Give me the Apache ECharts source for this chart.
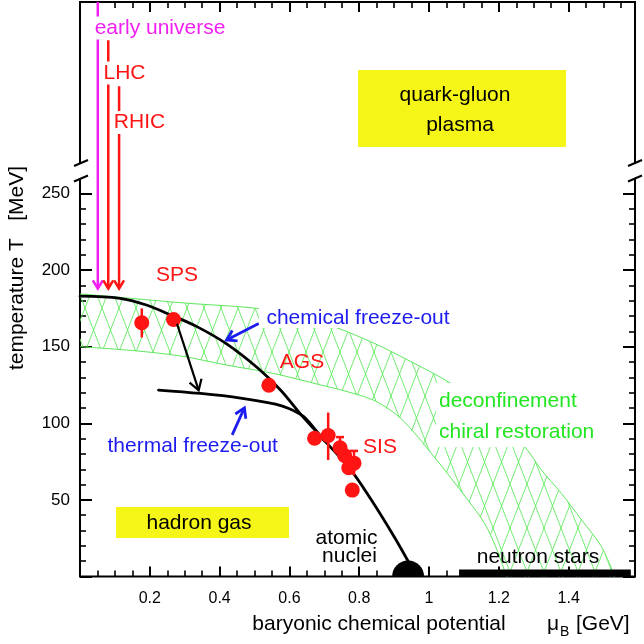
<!DOCTYPE html>
<html><head><meta charset="utf-8">
<script src="https://cdn.jsdelivr.net/npm/echarts@6/dist/echarts.min.js"></script>
<style>html,body{margin:0;padding:0;background:#fff}#c{width:644px;height:644px}</style>
</head><body><div id="c"></div>
<script>
// ---------- data ----------
const xTickLabels = ['0.2','0.4','0.6','0.8','1','1.2','1.4'];
const yTickLabels = ['50','100','150','200','250'];

const chemMu = [0, 0.115, 0.19, 0.26, 0.335, 0.42, 0.51, 0.575, 0.63, 0.69, 0.776, 0.833, 0.90, 0.945];
const chemT  = [183, 181.6, 177.2, 170.7, 163.1, 151.8, 135.9, 121.6, 106.5, 91.3, 69.5, 50.6, 26, 8];

const thermMu = [0.225, 0.345, 0.46, 0.56, 0.60, 0.64, 0.67, 0.70];
const thermT  = [121.7, 119.5, 116.5, 112.5, 109.5, 104.5, 97, 88.5];

const bandUpperMu = [0, 0.15, 0.3, 0.508, 0.62, 0.728, 0.843, 0.939, 1.063, 1.17, 1.274, 1.322, 1.379, 1.437, 1.494, 1.532];
const bandUpperT  = [184.5, 181.5, 178.5, 175, 170, 163, 152.2, 141.3, 126, 108, 84.7, 69.5, 54.3, 36.9, 19.5, 0];
const bandLowerMu = [0, 0.15, 0.287, 0.42, 0.555, 0.69, 0.747, 0.842, 0.92, 1.015, 1.111, 1.159, 1.19, 1.216, 1.222];
const bandLowerT  = [150, 147.5, 144, 138, 132.5, 125, 121.8, 115, 103, 78, 50, 34.7, 20, 4, 0];

const pointMu = [0.177, 0.268, 0.541, 0.672, 0.711, 0.745, 0.758, 0.77, 0.785, 0.78];
const pointT  = [165.6, 167.8, 124.8, 90.2, 92, 84, 79, 71, 74, 56.4];

const errMu   = [0.177, 0.711, 0.745, 0.785];
const errLow  = [156, 76, 76, 66];
const errHigh = [175, 107, 91, 82];
const errCap  = [0, 0, 1, 1];

const vArrowMu  = [0.051, 0.081, 0.112];   // early universe, LHC, RHIC
const vArrowTop = [375, 350, 320];
const vArrowTip = 188;

const chemArrow  = [0.512, 165.2, 0.42, 154.4];
const thermArrow = [0.436, 92.4, 0.471, 110.1];
const spsArrow   = [0.278, 165, 0.34, 121.5];

const nucleus = [0.94, 0];
const neutronStars = [1.086, 1.578, 4.5];

// ---------- helpers ----------
const FONT = '"Liberation Sans", Arial, Helvetica, sans-serif';
const RED = '#ff1414', BLUE = '#1c1cf0', GREEN = '#22e622', MAG = '#f21ff2', YEL = '#f5f518';

function makeHatch(){
  const w = 17, h = 44, c = document.createElement('canvas');
  c.width = w; c.height = h;
  const g = c.getContext('2d');
  g.strokeStyle = '#62ea62'; g.lineWidth = 0.9;
  g.beginPath();
  for (const dx of [-w, 0, w]) {
    g.moveTo(dx, 0); g.lineTo(dx + w, h);
    g.moveTo(dx + w, 0); g.lineTo(dx, h);
  }
  g.stroke();
  return c;
}
const hatch = makeHatch();

function arrowSeries(data, color, width, head){
  return {
    type: 'custom', coordinateSystem: 'cartesian2d', xAxisIndex: 0, yAxisIndex: 0,
    silent: true, z: 6, data: data,
    renderItem(params, api){
      const p1 = api.coord([api.value(0), api.value(1)]);
      const p2 = api.coord([api.value(2), api.value(3)]);
      const ang = Math.atan2(p2[1]-p1[1], p2[0]-p1[0]);
      const a1 = ang + Math.PI - 0.55, a2 = ang + Math.PI + 0.55;
      const h1 = [p2[0] + head*Math.cos(a1), p2[1] + head*Math.sin(a1)];
      const h2 = [p2[0] + head*Math.cos(a2), p2[1] + head*Math.sin(a2)];
      return {type:'group', children:[
        {type:'line', shape:{x1:p1[0], y1:p1[1], x2:p2[0], y2:p2[1]}, style:{stroke:color, lineWidth:width}},
        {type:'polyline', shape:{points:[h1, p2, h2]}, style:{stroke:color, lineWidth:width, fill:'none'}}
      ]};
    }
  };
}

// smooth curve drawn through the library's own coordinate conversion
function curveSeries(mu, T, color, width, z){
  return {
    type:'custom', coordinateSystem:'cartesian2d', xAxisIndex:0, yAxisIndex:0, silent:true, z:z,
    data:[[mu[0], T[0]]],
    renderItem(params, api){
      const pts = mu.map((m,i)=>api.coord([m, T[i]]));
      return {type:'polyline', shape:{points:pts, smooth:0.35}, style:{stroke:color, lineWidth:width, fill:'none', lineJoin:'round', lineCap:'round'}};
    }
  };
}

function txt(text, x, y, color, extra){
  return {type:'text', z:50, style: Object.assign({
    text, x, y, fill: color, font: '21px ' + FONT, align:'center', verticalAlign:'middle'
  }, extra || {})};
}

// ---------- chart ----------
const chart = echarts.init(document.getElementById('c'), null, {renderer:'canvas'});

const xCommon = {min:0, max:1.59, interval:0.2};
const fmtX = v => { const s = String(+(+v).toFixed(2)); return xTickLabels.includes(s) ? s : ''; };
const fmtY = v => { const s = String(+v); return yTickLabels.includes(s) ? s : ''; };

const option = {
  animation: false,
  backgroundColor: '#fff',
  grid: [
    {left:80, right:9, top:2, bottom:67.5, show:true, borderColor:'#000', borderWidth:2, backgroundColor:'transparent'},
    {left:80, right:9, top:193.5, bottom:67.5, show:false}
  ],
  xAxis: [
    Object.assign({type:'value', gridIndex:0, position:'bottom',
      axisLine:{show:false},
      axisTick:{show:true, inside:true, length:10, lineStyle:{color:'#000', width:2}},
      minorTick:{show:true, splitNumber:4, length:6, lineStyle:{color:'#000', width:1.6}},
      splitLine:{show:false},
      axisLabel:{formatter:fmtX, fontSize:16, color:'#000', margin:14, fontFamily:FONT}
    }, xCommon),
    Object.assign({type:'value', gridIndex:0, position:'top',
      axisLine:{show:false},
      axisTick:{show:true, inside:true, length:10, lineStyle:{color:'#000', width:2}},
      minorTick:{show:true, splitNumber:4, length:6, lineStyle:{color:'#000', width:1.6}},
      splitLine:{show:false}, axisLabel:{show:false}
    }, xCommon),
    Object.assign({type:'value', gridIndex:1, show:false}, xCommon)
  ],
  yAxis: [
    {type:'value', gridIndex:0, min:0, max:375, show:false},
    {type:'value', gridIndex:1, min:0, max:250, interval:50, position:'left',
      axisLine:{show:false},
      axisTick:{show:true, inside:true, length:12, lineStyle:{color:'#000', width:2}},
      minorTick:{show:true, splitNumber:5, length:6, lineStyle:{color:'#000', width:1.6}},
      splitLine:{show:false},
      axisLabel:{formatter:fmtY, fontSize:17, color:'#000', margin:10, fontFamily:FONT}},
    {type:'value', gridIndex:1, min:0, max:250, interval:50, position:'right',
      axisLine:{show:false},
      axisTick:{show:true, inside:true, length:12, lineStyle:{color:'#000', width:2}},
      minorTick:{show:true, splitNumber:5, length:6, lineStyle:{color:'#000', width:1.6}},
      splitLine:{show:false}, axisLabel:{show:false}}
  ],
  series: [
    // hatched crossover band
    {type:'custom', coordinateSystem:'cartesian2d', xAxisIndex:0, yAxisIndex:0, silent:true, z:1,
      data:[[0,0]],
      renderItem(params, api){
        const up = bandUpperMu.map((m,i)=>api.coord([m, bandUpperT[i]]));
        const lo = bandLowerMu.map((m,i)=>api.coord([m, bandLowerT[i]]));
        const poly = up.concat(lo.slice().reverse());
        return {type:'group', children:[
          {type:'polygon', shape:{points:poly}, style:{fill:{image:hatch, repeat:'repeat'}, stroke:'none'}},
          {type:'polyline', shape:{points:up, smooth:0.3}, style:{stroke:'#5ee85e', lineWidth:1, fill:'none'}},
          {type:'polyline', shape:{points:lo, smooth:0.3}, style:{stroke:'#5ee85e', lineWidth:1, fill:'none'}}
        ]};
      }},
    curveSeries(chemMu, chemT, '#000', 2.8, 3),
    curveSeries(thermMu, thermT, '#000', 2.8, 3),
    // error bars
    {type:'custom', coordinateSystem:'cartesian2d', xAxisIndex:0, yAxisIndex:0, silent:true, z:4,
      data: errMu.map((m,i)=>[m, errLow[i], errHigh[i], errCap[i]]),
      renderItem(params, api){
        const a = api.coord([api.value(0), api.value(1)]);
        const b = api.coord([api.value(0), api.value(2)]);
        const ch = [{type:'line', shape:{x1:a[0], y1:a[1], x2:b[0], y2:b[1]}, style:{stroke:RED, lineWidth:2.5}}];
        if (api.value(3)) {
          ch.push({type:'line', shape:{x1:b[0]-4, y1:b[1], x2:b[0]+4, y2:b[1]}, style:{stroke:RED, lineWidth:2.5}});
        }
        return {type:'group', children:ch};
      }},
    // data points
    {type:'scatter', xAxisIndex:0, yAxisIndex:0, z:4, silent:true, symbol:'circle', symbolSize:15,
      itemStyle:{color:RED, opacity:1}, data: pointMu.map((m,i)=>[m, pointT[i]])},
    // arrows
    arrowSeries([[vArrowMu[0], vArrowTop[0], vArrowMu[0], vArrowTip]], MAG, 2.5, 9.5),
    arrowSeries([[vArrowMu[1], vArrowTop[1], vArrowMu[1], vArrowTip],
                 [vArrowMu[2], vArrowTop[2], vArrowMu[2], vArrowTip]], RED, 2.5, 9.5),
    arrowSeries([chemArrow, thermArrow], BLUE, 2.8, 11),
    arrowSeries([spsArrow], '#000', 2.2, 12),
    // atomic nuclei
    {type:'custom', coordinateSystem:'cartesian2d', xAxisIndex:0, yAxisIndex:0, silent:true, z:5,
      data:[nucleus],
      renderItem(params, api){
        const c = api.coord([api.value(0), api.value(1)]);
        return {type:'sector', shape:{cx:c[0], cy:c[1], r0:0, r:16, startAngle:Math.PI, endAngle:2*Math.PI, clockwise:true},
          style:{fill:'#000'}};
      }},
    // neutron stars
    {type:'custom', coordinateSystem:'cartesian2d', xAxisIndex:0, yAxisIndex:0, silent:true, z:5,
      data:[neutronStars],
      renderItem(params, api){
        const a = api.coord([api.value(0), api.value(2)]);
        const b = api.coord([api.value(1), 0]);
        return {type:'rect', shape:{x:a[0], y:a[1], width:b[0]-a[0], height:b[1]-a[1]}, style:{fill:'#000'}};
      }}
  ],
  graphic: [
    // axis breaks
    {type:'rect', z:60, shape:{x:77, y:164, width:8, height:14}, style:{fill:'#fff'}},
    {type:'line', z:61, shape:{x1:74, y1:166, x2:88, y2:160}, style:{stroke:'#000', lineWidth:2}},
    {type:'line', z:61, shape:{x1:74, y1:181.5, x2:88, y2:175.5}, style:{stroke:'#000', lineWidth:2}},
    {type:'rect', z:60, shape:{x:631, y:164, width:8, height:14}, style:{fill:'#fff'}},
    {type:'line', z:61, shape:{x1:628, y1:166, x2:642, y2:160}, style:{stroke:'#000', lineWidth:2}},
    {type:'line', z:61, shape:{x1:628, y1:181.5, x2:642, y2:175.5}, style:{stroke:'#000', lineWidth:2}},
    // white backing boxes over hatch
    {type:'rect', z:40, shape:{x:259, y:307, width:198, height:21}, style:{fill:'#fff'}},
    {type:'rect', z:40, shape:{x:436, y:383, width:170, height:64}, style:{fill:'#fff'}},
    // yellow boxes
    {type:'rect', z:40, shape:{x:358, y:70, width:208, height:77}, style:{fill:YEL}},
    {type:'rect', z:40, shape:{x:116, y:507, width:173, height:31}, style:{fill:YEL}},
    // labels
    txt('early universe', 160, 28, MAG, {backgroundColor:'#fff', padding:[1,1]}),
    txt('LHC', 124.5, 73, RED, {backgroundColor:'#fff', padding:[1,1]}),
    txt('RHIC', 139.5, 122.5, RED, {backgroundColor:'#fff', padding:[1,1]}),
    txt('SPS', 177, 275, RED),
    txt('chemical freeze-out', 358, 318, BLUE),
    txt('AGS', 302, 362, RED),
    txt('thermal freeze-out', 192.7, 446, BLUE),
    txt('SIS', 380, 447, RED),
    txt('deconfinement', 439, 401, GREEN, {align:'left'}),
    txt('chiral restoration', 439, 432, GREEN, {align:'left'}),
    txt('quark-gluon', 455, 95, '#000'),
    txt('plasma', 460, 125, '#000'),
    txt('hadron gas', 199, 523, '#000'),
    txt('atomic', 346.5, 538, '#000'),
    txt('nuclei', 349.5, 556, '#000'),
    txt('neutron stars', 538, 557, '#000'),
    // axis titles
    {type:'text', z:50, x:17, y:268, rotation:Math.PI/2,
      style:{text:'temperature T   [MeV]', x:0, y:0, fill:'#000', font:'21px '+FONT, align:'center', verticalAlign:'middle'}},
    txt('baryonic chemical potential', 379, 624, '#000'),
    txt('\u03bc', 547, 624, '#000', {align:'left'}),
    txt('B', 560, 632, '#000', {align:'left', font:'14px '+FONT}),
    txt('[GeV]', 576, 624, '#000', {align:'left'})
  ]
};
chart.setOption(option);
</script>
</body></html>
